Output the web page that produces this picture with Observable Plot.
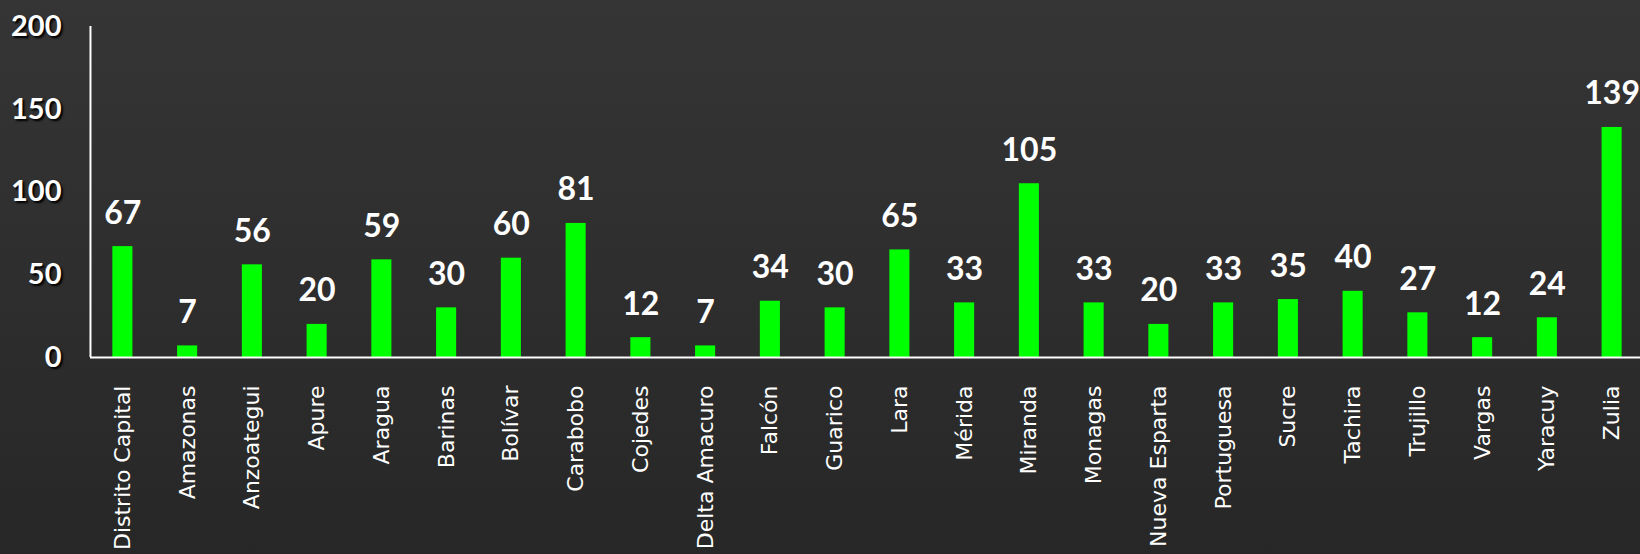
<!DOCTYPE html>
<html>
<head>
<meta charset="utf-8">
<script src="https://cdn.jsdelivr.net/npm/d3@7"></script>
<script src="https://cdn.jsdelivr.net/npm/@observablehq/plot@0.6"></script>
<style>
  html, body { margin: 0; padding: 0; }
  body { width: 1640px; height: 554px; background: linear-gradient(#353535, #272727); overflow: hidden; }
  #chart svg { display: block; background: transparent; }
</style>
</head>
<body>
<div id="chart"></div>
<script>
const states = ["Distrito Capital","Amazonas","Anzoategui","Apure","Aragua","Barinas","Bolívar","Carabobo","Cojedes","Delta Amacuro","Falcón","Guarico","Lara","Mérida","Miranda","Monagas","Nueva Esparta","Portuguesa","Sucre","Tachira","Trujillo","Vargas","Yaracuy","Zulia"];
const values = [67,7,56,20,59,30,60,81,12,7,34,30,65,33,105,33,20,33,35,40,27,12,24,139];
const yTicks = [0,50,100,150,200];

const data = states.map((s, i) => ({state: s, value: values[i]}));

const chart = Plot.plot({
  width: 1640,
  height: 554,
  marginTop: 26,
  marginBottom: 197,
  marginLeft: 90,
  marginRight: -4,
  style: {background: "transparent", color: "white", overflow: "visible", fontFamily: "'DejaVu Sans', sans-serif"},
  x: {domain: states, paddingInner: 0.69, paddingOuter: 0.345, align: 0.5, round: false, axis: null},
  y: {domain: [0, 200], axis: null},
  marks: [
    Plot.barY(data, {x: "state", y: "value", fill: "#00ff00"}),
    Plot.text(data, {x: "state", y: "value", text: d => String(d.value), dy: -23, lineAnchor: "bottom", fill: "white", fontSize: 32, fontWeight: "bold", fontFamily: "Lato"}),
    Plot.text(yTicks, {y: d => d, text: d => String(d), frameAnchor: "left", dx: -29, textAnchor: "end", fill: "white", fontSize: 29, fontWeight: "bold", fontFamily: "Lato", className: "ylab"}),
    Plot.text(states, {x: d => d, text: d => d, frameAnchor: "bottom", dy: 28, rotate: -90, textAnchor: "end", lineAnchor: "middle", fill: "white", fontSize: 22, fontFamily: "DejaVu Sans"}),
    Plot.ruleY([0], {stroke: "white", strokeWidth: 2}),
    Plot.ruleX([0], {x: () => states[0], dx: -32.4, y1: 0, y2: 200, stroke: "white", strokeWidth: 2})
  ]
});
d3.select(chart).selectAll(".ylab text").style("text-shadow", "2px 2px 2px #000");
document.getElementById("chart").appendChild(chart);
</script>
</body>
</html>
